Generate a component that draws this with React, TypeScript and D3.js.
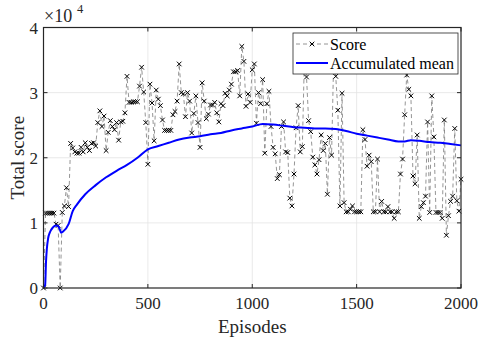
import React from "react";
import * as d3 from "d3";

// Score sampled every 10 episodes (units of 1e4)
const scoreStep = 10;
const scores = [
  0, 1.15, 1.15, 1.15, 1.15, 1.15, 0.98, 0.96, 0, 1.16,
  1.26, 1.54, 1.25, 2.22, 2.15, 2.09, 2.07, 2.07, 2.16, 2.09,
  2.23, 2.16, 2.11, 2.22, 2.23, 2.18, 2.54, 2.72, 2.48, 2.64,
  2.11, 2.39, 2.57, 2.48, 2.43, 2.54, 2.27, 2.55, 2.56, 2.69,
  3.25, 2.85, 2.85, 2.86, 2.86, 2.86, 3.1, 3.39, 3.01, 2.54,
  1.9, 3.13, 2.84, 2.26, 3.04, 2.9, 2.8, 2.58, 2.42, 2.42,
  2.42, 2.42, 2.66, 2.71, 2.87, 3.44, 3.0, 2.98, 2.63, 3.0,
  2.87, 2.38, 2.68, 2.95, 2.54, 2.16, 3.15, 2.87, 2.6, 2.67,
  2.81, 2.81, 2.85, 2.69, 2.55, 2.83, 2.8, 2.99, 2.95, 3.04,
  3.13, 3.32, 3.32, 3.34, 2.95, 3.71, 3.48, 2.79, 2.98, 2.85,
  3.35, 3.44, 2.53, 3.0, 2.83, 3.2, 2.07, 2.83, 3.02, 2.48,
  2.16, 2.06, 1.68, 1.74, 2.48, 2.55, 2.09, 2.08, 1.38, 1.26,
  1.75, 2.46, 2.8, 2.09, 2.17, 3.55, 3.24, 2.57, 2.4, 2.01,
  1.89, 1.75, 1.97, 2.35, 2.11, 2.22, 1.44, 2.31, 2.04, 3.5,
  3.25, 2.73, 1.26, 2.99, 1.31, 1.17, 1.17, 1.21, 1.26, 1.17,
  1.17, 1.17, 1.17, 2.43, 2.28, 1.87, 2.04, 1.94, 1.17, 1.17,
  1.98, 1.17, 1.33, 1.17, 1.17, 1.25, 1.17, 1.17, 1.07, 1.17,
  1.17, 1.75, 1.98, 2.66, 3.27, 3.05, 2.95, 1.72, 1.6, 2.35,
  1.07, 1.25, 1.31, 1.41, 2.55, 1.16, 2.95, 2.32, 1.16, 1.16,
  1.16, 1.07, 2.58, 0.81, 1.11, 1.33, 1.41, 2.45, 1.34, 1.18,
  1.67,
];

// Accumulated mean (units of 1e4)
const meanEpisodes = [
  0, 8, 12, 16, 22, 30, 45, 60, 70, 78, 84, 95, 120, 140, 160, 200, 250, 300, 350, 400,
  450, 500, 550, 600, 650, 700, 750, 800, 850, 900, 950, 1000, 1050, 1100, 1150, 1200,
  1250, 1300, 1350, 1400, 1450, 1500, 1550, 1600, 1650, 1700, 1730, 1760, 1800, 1850,
  1900, 1950, 2000,
];
const meanValues = [
  0, 0.05, 0.4, 0.6, 0.76, 0.85, 0.93, 0.96, 0.95, 0.9, 0.85, 0.87, 0.98, 1.18, 1.28, 1.44, 1.58, 1.7, 1.8, 1.89,
  2.0, 2.13, 2.18, 2.23, 2.28, 2.31, 2.33, 2.36, 2.38, 2.42, 2.45, 2.48, 2.52, 2.51, 2.49, 2.47,
  2.46, 2.45, 2.45, 2.44, 2.41, 2.37, 2.34, 2.31, 2.28, 2.25, 2.25, 2.27, 2.26, 2.24,
  2.23, 2.21, 2.19,
];

const xTicks = [0, 500, 1000, 1500, 2000];
const yTicks = [0, 1, 2, 3, 4];
const xLabel = "Episodes";
const yLabel = "Total score";
const legendLabels = ["Score", "Accumulated mean"];

const W = 480;
const H = 340;
const L = 43.5, R = 461, T = 27.5, B = 288;
const FONT = "Liberation Serif, Times New Roman, Times, serif";

export default function App() {
  const x = d3.scaleLinear().domain([0, 2000]).range([L, R]);
  const y = d3.scaleLinear().domain([0, 4]).range([B, T]);

  const scorePts = scores.map((v, i) => [i * scoreStep, v] as [number, number]);
  const scoreLine = d3.line<[number, number]>().x(d => x(d[0])).y(d => y(d[1]))(scorePts) || "";
  const meanLine =
    d3.line<number>()
      .x((_, i) => x(meanEpisodes[i]))
      .y(d => y(d))
      .curve(d3.curveMonotoneX)(meanValues) || "";

  const ms = 2.3;
  const axisColor = "#262626";
  const gridColor = "#e3e3e3";
  const tickLen = 4;

  return (
    <svg width={W} height={H} style={{ position: "fixed", left: 0, top: 0, background: "#fff", fontFamily: FONT }}>
      <rect x={0} y={0} width={W} height={H} fill="#fff" />
      {xTicks.filter(t => t > 0 && t < 2000).map(t => (
        <line key={"gx" + t} x1={x(t)} x2={x(t)} y1={T} y2={B} stroke={gridColor} strokeWidth={0.8} />
      ))}
      {yTicks.filter(t => t > 0 && t < 4).map(t => (
        <line key={"gy" + t} x1={L} x2={R} y1={y(t)} y2={y(t)} stroke={gridColor} strokeWidth={0.8} />
      ))}
      <path d={scoreLine} fill="none" stroke="#7a7a7a" strokeWidth={0.8} strokeDasharray="4,3" />
      {scorePts.map(([e, v], i) => (
        <g key={"m" + i} stroke="#000" strokeWidth={1}>
          <line x1={x(e) - ms} x2={x(e) + ms} y1={y(v) - ms} y2={y(v) + ms} />
          <line x1={x(e) - ms} x2={x(e) + ms} y1={y(v) + ms} y2={y(v) - ms} />
        </g>
      ))}
      <path d={meanLine} fill="none" stroke="#0000ff" strokeWidth={2} />
      <rect x={L} y={T} width={R - L} height={B - T} fill="none" stroke={axisColor} strokeWidth={1.2} />
      {xTicks.map(t => (
        <g key={"xt" + t}>
          <line x1={x(t)} x2={x(t)} y1={B} y2={B - tickLen} stroke={axisColor} />
          <line x1={x(t)} x2={x(t)} y1={T} y2={T + tickLen} stroke={axisColor} />
          <text x={x(t)} y={309} textAnchor="middle" fontSize={17} fill="#262626">{t}</text>
        </g>
      ))}
      {yTicks.map(t => (
        <g key={"yt" + t}>
          <line x1={L} x2={L + tickLen} y1={y(t)} y2={y(t)} stroke={axisColor} />
          <line x1={R} x2={R - tickLen} y1={y(t)} y2={y(t)} stroke={axisColor} />
          <text x={38} y={y(t) + 6} textAnchor="end" fontSize={17} fill="#262626">{t}</text>
        </g>
      ))}
      <text x={44} y={22} fontSize={18} fill="#262626">×10</text>
      <text x={77} y={13} fontSize={12.5} fill="#262626">4</text>
      <text x={(L + R) / 2} y={333} textAnchor="middle" fontSize={19} fill="#262626">{xLabel}</text>
      <text transform={`translate(24,${(T + B) / 2}) rotate(-90)`} textAnchor="middle" fontSize={19} fill="#262626">{yLabel}</text>
      <g>
        <rect x={293} y={33} width={165} height={41} fill="#fff" stroke={axisColor} strokeWidth={0.8} />
        <line x1={296} x2={328} y1={44} y2={44} stroke="#7a7a7a" strokeWidth={0.8} strokeDasharray="4,3" />
        <g stroke="#000" strokeWidth={1}>
          <line x1={312 - ms} x2={312 + ms} y1={44 - ms} y2={44 + ms} />
          <line x1={312 - ms} x2={312 + ms} y1={44 + ms} y2={44 - ms} />
        </g>
        <text x={330} y={50} fontSize={16} fill="#000">{legendLabels[0]}</text>
        <line x1={296} x2={328} y1={63} y2={63} stroke="#0000ff" strokeWidth={2} />
        <text x={330} y={69} fontSize={16} fill="#000">{legendLabels[1]}</text>
      </g>
    </svg>
  );
}
